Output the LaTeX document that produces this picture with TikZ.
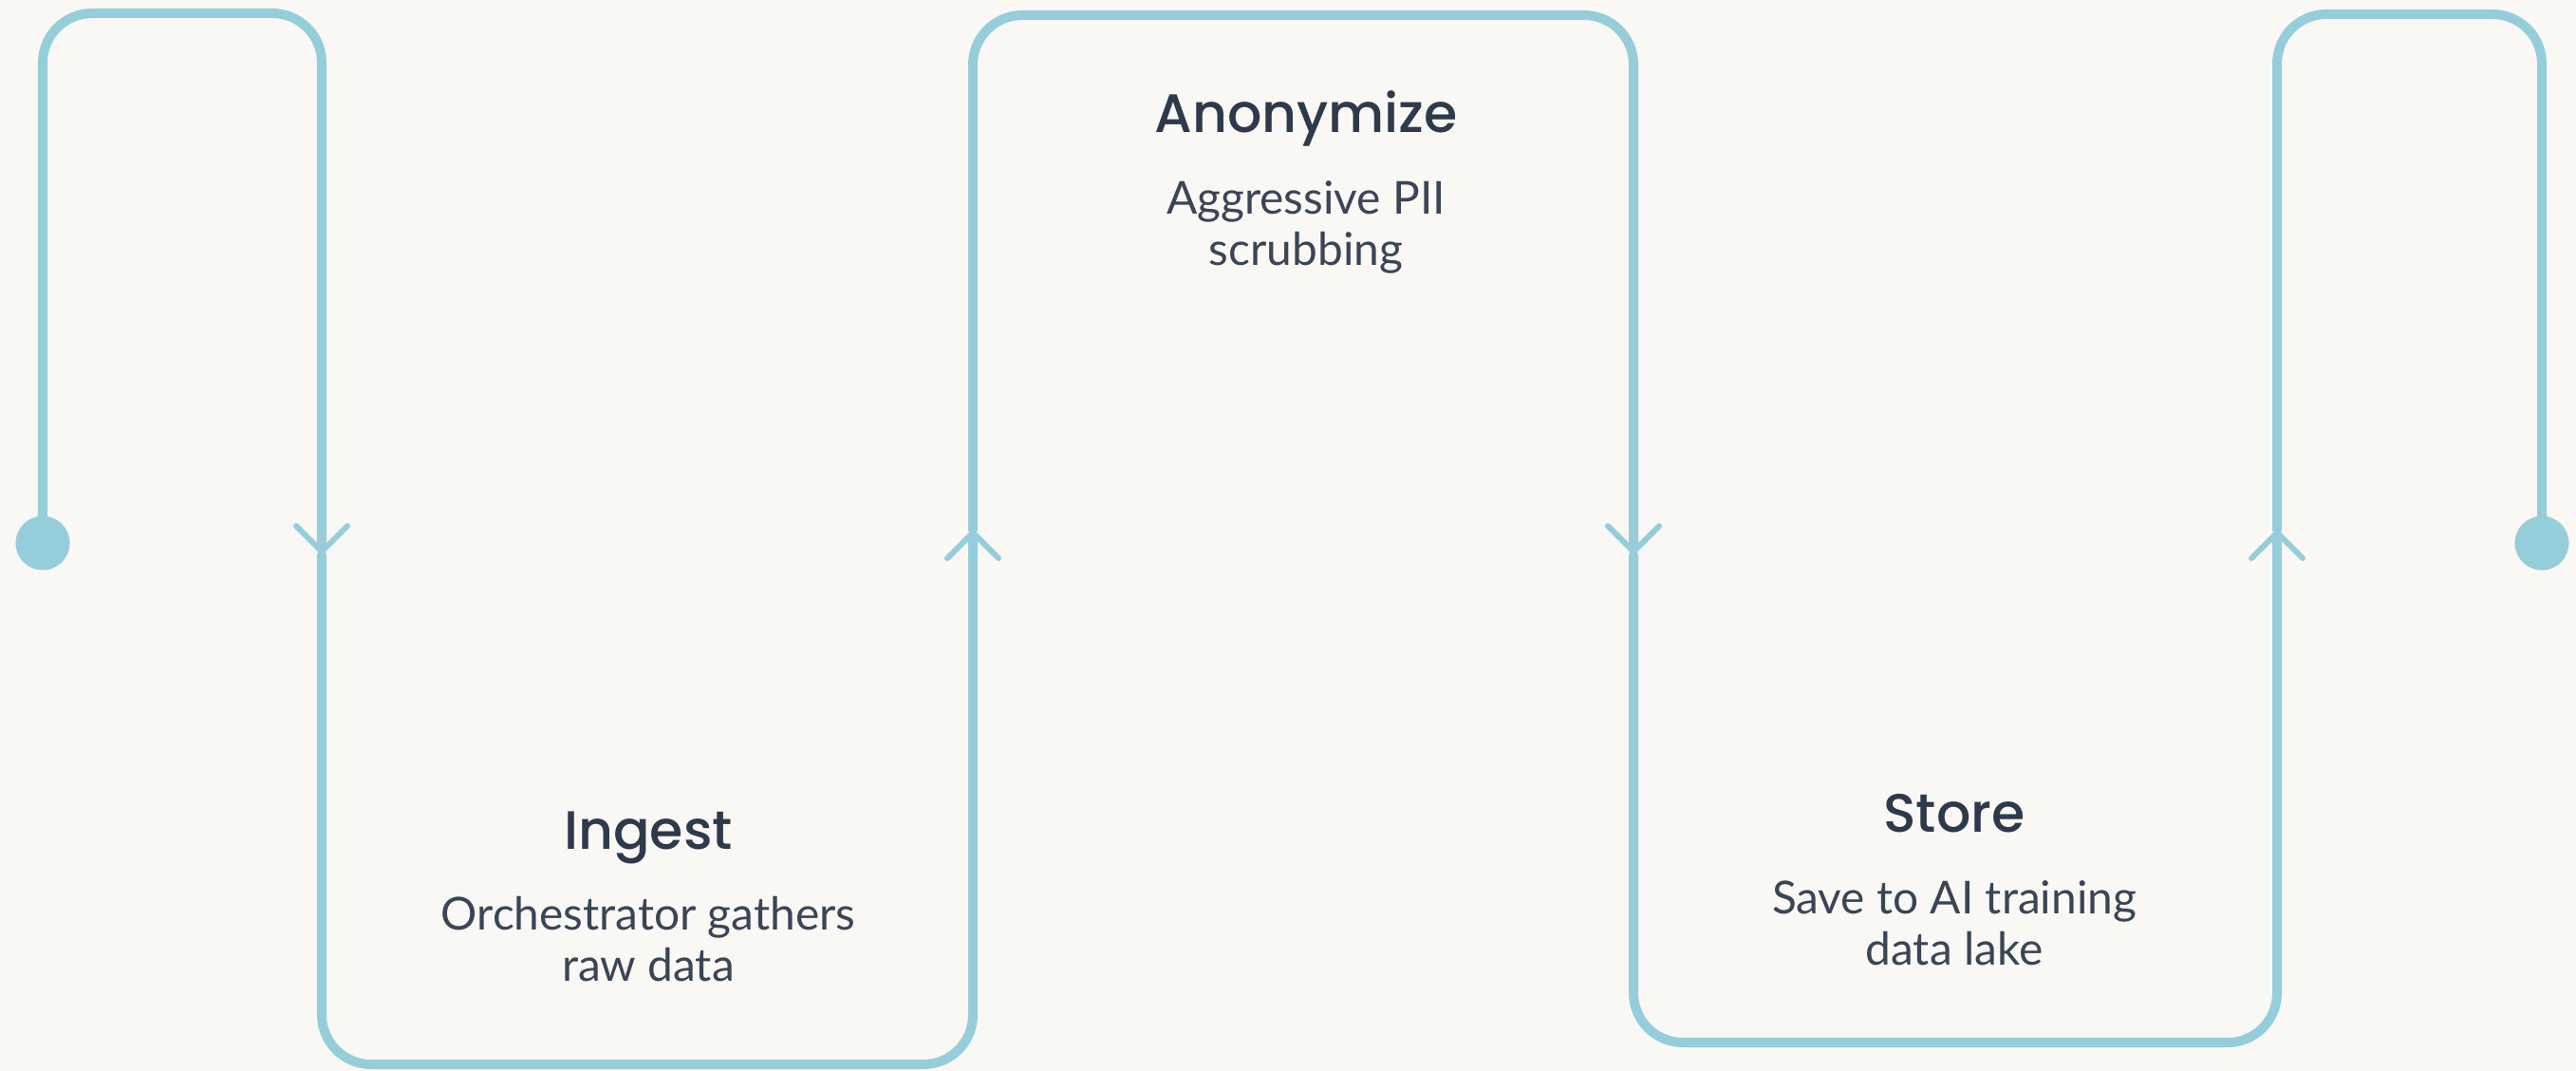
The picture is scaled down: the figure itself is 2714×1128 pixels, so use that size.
\documentclass[tikz,border=0pt]{standalone}
\usepackage{fontspec}
\setmainfont{Lato}
\newfontfamily\headfont{Poppins Medium}
\usetikzlibrary{arrows.meta}

\definecolor{wave}{HTML}{96CDDA}
\definecolor{paper}{HTML}{FAF8F4}
\definecolor{ink}{HTML}{2D3A4B}
\definecolor{inkbody}{HTML}{3A4556}

\tikzset{
  wave/.style={draw=wave, line width=0.1cm, rounded corners=0.52cm, line cap=round},
  flow/.style={wave, -{Straight Barb[length=0.27cm, width=0.54cm, line width=0.06cm, round]}},
  dot/.style={circle, fill=wave, minimum size=0.57cm, inner sep=0pt},
  title/.style={font=\headfont\fontsize{16.2}{19}\selectfont, text=ink, anchor=base, inner sep=0pt},
  desc/.style={font=\fontsize{13.6}{15.6}\selectfont, text=inkbody, align=center, anchor=base, inner sep=0pt}
}

\begin{document}
\begin{tikzpicture}[x=0.01cm, y=-0.01cm]
    \fill[paper] (0,0) rectangle (2714,1128);
    \useasboundingbox (0,0) rectangle (2714,1128);

    % end points and arrow points
    \node[dot] (start) at (45,572) {};
    \node[dot] (finish) at (2678,572) {};
    \coordinate (a1) at (339,584);
    \coordinate (a2) at (1025,558);
    \coordinate (a3) at (1721,584);
    \coordinate (a4) at (2399,558);

    % the wave
    \draw[flow] (start.center) -- (45,14) -- (339,14) -- (a1);
    \draw[flow] (a1) -- (339,1121) -- (1025,1121) -- (a2);
    \draw[flow] (a2) -- (1025,16) -- (1721,16) -- (a3);
    \draw[flow] (a3) -- (1721,1098) -- (2399,1098) -- (a4);
    \draw[wave] (a4) -- (2399,15) -- (2678,15) -- (finish.center);

    % labels (desc nodes sit on their last line)
    \node[title] (ingest) at (683,895) {Ingest};
    \node[desc] (ingestdesc) at (683,1034) {Orchestrator gathers\\raw data};
    \node[title] (anon) at (1376,140) {Anonymize};
    \node[desc] (anondesc) at (1376,280) {Aggressive PII\\scrubbing};
    \node[title] (store) at (2059,877) {Store};
    \node[desc] (storedesc) at (2059,1017) {Save to AI training\\data lake};
\end{tikzpicture}
\end{document}
